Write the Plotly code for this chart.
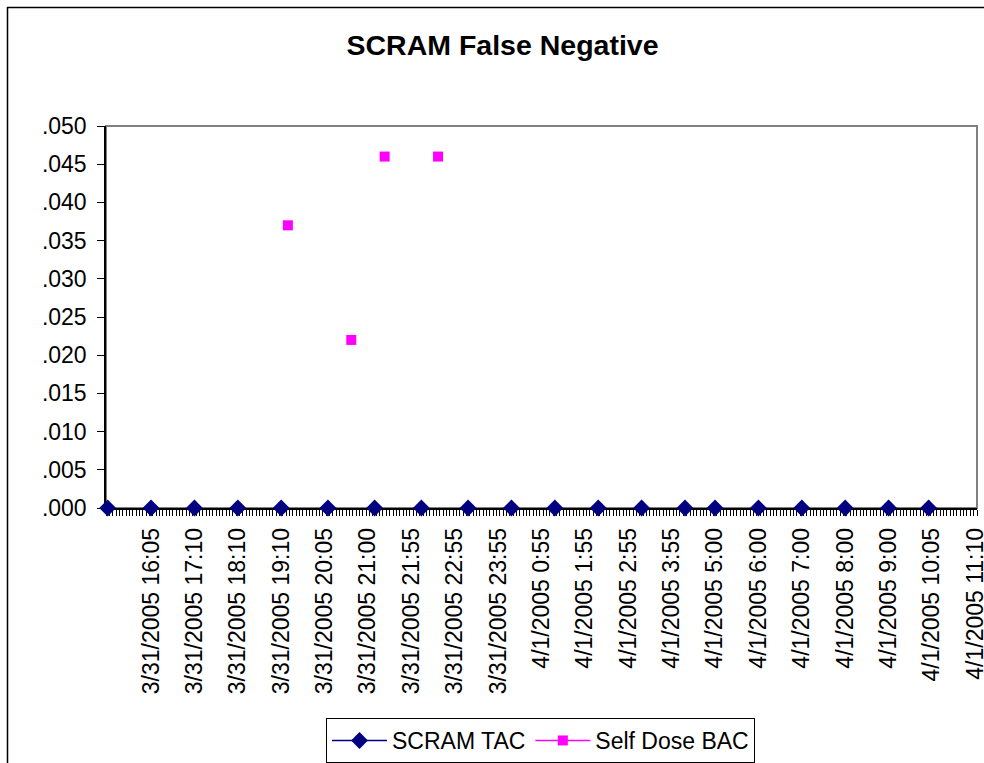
import plotly.graph_objects as go

# ---- data ----
n_categories = 261  # category slots on the x axis (5-minute readings)

tick_positions = [14, 27, 40, 53, 66, 79, 92, 105, 118, 131, 144, 157, 170, 183, 196, 209, 222, 235, 248, 261]
tick_labels = [
    "3/31/2005 16:05", "3/31/2005 17:10", "3/31/2005 18:10", "3/31/2005 19:10",
    "3/31/2005 20:05", "3/31/2005 21:00", "3/31/2005 21:55", "3/31/2005 22:55",
    "3/31/2005 23:55", "4/1/2005 0:55", "4/1/2005 1:55", "4/1/2005 2:55",
    "4/1/2005 3:55", "4/1/2005 5:00", "4/1/2005 6:00", "4/1/2005 7:00",
    "4/1/2005 8:00", "4/1/2005 9:00", "4/1/2005 10:05", "4/1/2005 11:10",
]

tac_idx = [1, 14, 27, 40, 53, 67, 81, 95, 109, 122, 135, 148, 161, 174, 183, 196, 209, 222, 235, 247]
tac_val = [0, 0, 0, 0, 0, 0, 0, 0, 0, 0, 0, 0, 0, 0, 0, 0, 0, 0, 0, 0]

bac_idx = [55, 74, 84, 100]
bac_val = [0.037, 0.022, 0.046, 0.046]

y_ticks = [0.0, 0.005, 0.010, 0.015, 0.020, 0.025, 0.030, 0.035, 0.040, 0.045, 0.050]
y_labels = [".000", ".005", ".010", ".015", ".020", ".025", ".030", ".035", ".040", ".045", ".050"]

# ---- build full category series (gaps where no reading) ----
cats = list(range(1, n_categories + 1))
tac_full = [None] * n_categories
for i, v in zip(tac_idx, tac_val):
    tac_full[i - 1] = v
bac_full = [None] * n_categories
for i, v in zip(bac_idx, bac_val):
    bac_full[i - 1] = v

FONT = "Liberation Sans, Arial, sans-serif"

fig = go.Figure()
fig.add_trace(go.Scatter(
    x=cats, y=tac_full, name="SCRAM TAC", mode="lines+markers",
    line=dict(color="#000080", width=1.5),
    marker=dict(symbol="diamond", size=13, color="#000080"),
    connectgaps=False, cliponaxis=False,
))
fig.add_trace(go.Scatter(
    x=cats, y=bac_full, name="Self Dose BAC", mode="lines+markers",
    line=dict(color="#FF00FF", width=1.5),
    marker=dict(symbol="square", size=10, color="#FF00FF"),
    connectgaps=False, cliponaxis=False,
))

L, R, T, B = 106, 7, 126, 255
plot_w = 984 - L - R
plot_h = 763 - T - B

fig.update_layout(
    width=984, height=763,
    margin=dict(l=L, r=R, t=T, b=B, pad=0, autoexpand=False),
    paper_bgcolor="white", plot_bgcolor="white",
    font=dict(family=FONT, size=23, color="black"),
    title=dict(text="<b>SCRAM False Negative</b>", x=502.5 / 984, xanchor="center",
               y=1 - 45 / 763, yanchor="middle", xref="container", yref="container",
               font=dict(family=FONT, size=28.5, color="black"), automargin=False),
    showlegend=True,
    legend=dict(orientation="h", x=(540.5 - L) / plot_w, xanchor="center", xref="paper",
                y=(763 - B - 718) / plot_h, yanchor="top", yref="paper",
                bordercolor="black", borderwidth=1, bgcolor="white",
                font=dict(family=FONT, size=23, color="black"),
                itemwidth=55, tracegroupgap=0),
    xaxis=dict(
        range=[0.5, n_categories + 0.5], showgrid=False, zeroline=False,
        showline=True, linecolor="black", linewidth=1.5, automargin=False,
        tickmode="array", tickvals=tick_positions, ticktext=tick_labels,
        tickangle=-90, ticks="", ticklabelstandoff=9, ticklabeloverflow="allow",
        tickfont=dict(family=FONT, size=23, color="black"),
        minor=dict(tickmode="linear", tick0=0.5, dtick=1, ticks="outside",
                   ticklen=6, tickcolor="black", tickwidth=1, showgrid=False),
        layer="below traces",
    ),
    yaxis=dict(
        range=[0, 0.05], showgrid=False, zeroline=False,
        showline=True, linecolor="black", linewidth=1.5, automargin=False,
        tickmode="array", tickvals=y_ticks, ticktext=y_labels,
        ticks="outside", ticklen=7, tickcolor="black", tickwidth=1,
        ticklabelstandoff=6, ticklabeloverflow="allow",
        tickfont=dict(family=FONT, size=23, color="black"),
        layer="below traces",
    ),
    shapes=[
        # plot area border (gray)
        dict(type="rect", xref="paper", yref="paper", x0=0, y0=0, x1=1, y1=1,
             line=dict(color="#808080", width=2), layer="below"),
        # chart area border
        dict(type="rect", xref="paper", yref="paper",
             x0=(7.5 - L) / plot_w, x1=(1300 - L) / plot_w,
             y0=(763 - B - 1000) / plot_h, y1=(763 - B - 7.5) / plot_h,
             line=dict(color="black", width=1.5), layer="below"),
    ],
)

fig.write_html(
    "out.html",
    config={"displayModeBar": False},
    post_script="document.body.style.margin='0px';document.body.style.overflow='hidden';",
)
